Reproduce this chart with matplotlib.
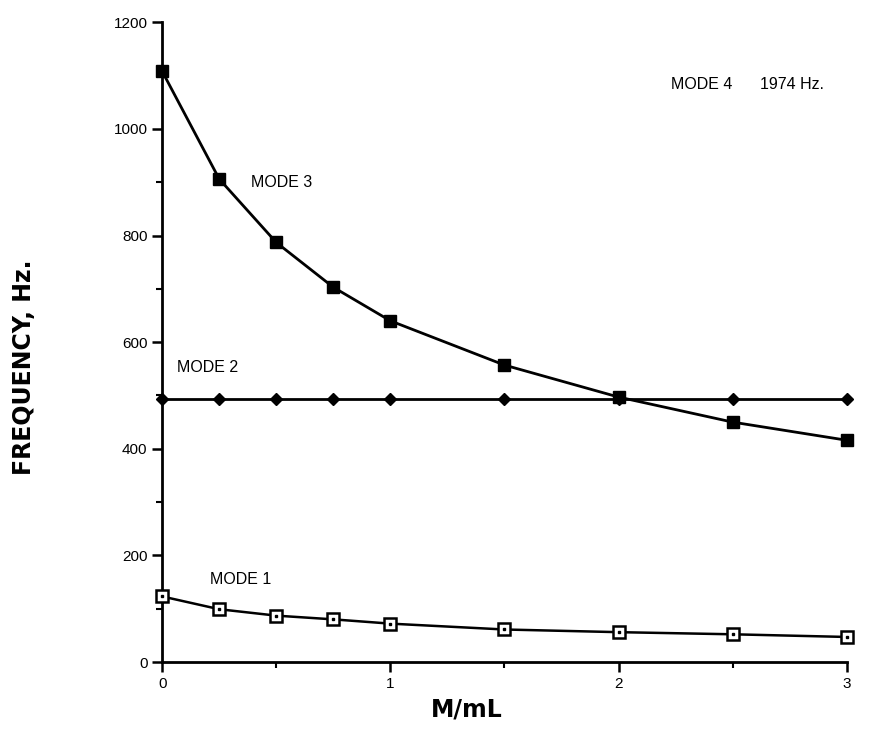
import numpy as np
import matplotlib
matplotlib.use("Agg")
import matplotlib.pyplot as plt
from matplotlib.ticker import MultipleLocator

plt.rcParams['font.family'] = ['Liberation Sans', 'DejaVu Sans']

# rapport de masse M/mL
x = [0, 0.25, 0.5, 0.75, 1, 1.5, 2, 2.5, 3]
mode1 = [123, 99, 87, 80, 72, 61, 56, 52, 47]
mode2 = [493, 493, 493, 493, 493, 493, 493, 493, 493]
mode3 = [1108, 906, 787, 703, 640, 557, 497, 450, 416]

fig = plt.figure(figsize=(8.72, 7.43), dpi=100)
ax = fig.add_axes([0.186, 0.109, 0.785, 0.861])

ax.plot(x, mode3, color='black', lw=2, marker='s', ms=8, mfc='black', mec='black', clip_on=False, zorder=3)
ax.plot(x, mode2, color='black', lw=2, marker='D', ms=6, mfc='black', mec='black', clip_on=False, zorder=3)
ax.plot(x, mode1, color='black', lw=1.8, marker='s', ms=8, mfc='white', mec='black', mew=1.8, clip_on=False, zorder=3)
ax.plot(x, mode1, ls='none', marker='s', ms=1.5, mfc='black', mec='black', clip_on=False, zorder=4)

ax.text(0.39, 900, 'MODE 3', fontsize=11.5, va='center', ha='left')
ax.text(0.066, 553, 'MODE 2', fontsize=11.5, va='center', ha='left')
ax.text(0.21, 154, 'MODE 1', fontsize=11.5, va='center', ha='left')
ax.text(2.23, 1084, 'MODE 4', fontsize=11.5, va='center', ha='left')
ax.text(2.62, 1084, '1974 Hz.', fontsize=11.5, va='center', ha='left')

ax.set_xlim(0, 3)
ax.set_ylim(0, 1200)
ax.xaxis.set_major_locator(MultipleLocator(1))
ax.xaxis.set_minor_locator(MultipleLocator(0.5))
ax.yaxis.set_major_locator(MultipleLocator(200))
ax.yaxis.set_minor_locator(MultipleLocator(100))
ax.tick_params(which='major', length=7, width=1.8, labelsize=11, direction='out')
ax.tick_params(which='minor', length=4, width=1.5, direction='out')

for s in ['top', 'right']:
    ax.spines[s].set_visible(False)
for s in ['left', 'bottom']:
    ax.spines[s].set_linewidth(2)

ax.set_xlabel('M/mL', fontsize=17, fontweight='bold', family='DejaVu Sans')
ax.set_ylabel('FREQUENCY, Hz.', fontsize=17, fontweight='bold', family='DejaVu Sans')
ax.xaxis.set_label_coords(0.445, -0.055)
ax.yaxis.set_label_coords(-0.185, 0.46)

fig.savefig('out.png', dpi=100)
